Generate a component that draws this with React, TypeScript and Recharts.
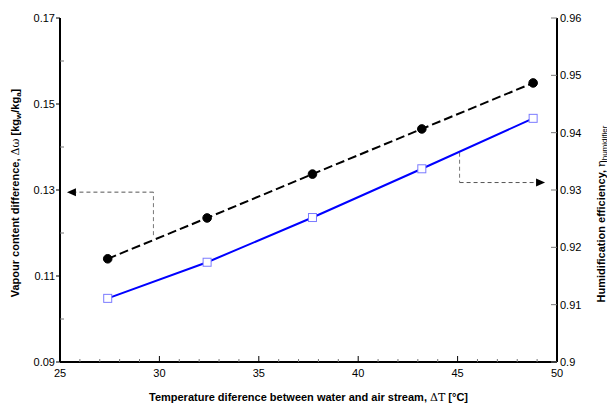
import { LineChart, Line, XAxis, YAxis, ReferenceLine } from 'recharts';

// readings from the figure
const deltaT = [27.4, 32.4, 37.7, 43.2, 48.8];
const vapourDiff = [0.114, 0.1235, 0.1337, 0.1442, 0.1549];
const efficiency = [0.9111, 0.9174, 0.9252, 0.9337, 0.9425];

const xTicks = [25, 26, 27, 28, 29, 30, 31, 32, 33, 34, 35, 36, 37, 38, 39, 40, 41, 42, 43, 44, 45, 46, 47, 48, 49, 50];
const leftTicks = [0.09, 0.1, 0.11, 0.12, 0.13, 0.14, 0.15, 0.16, 0.17];
const rightTicks = [0.9, 0.91, 0.92, 0.93, 0.94, 0.95, 0.96];

// dashed pointer arrows (data units)
const leftPointer = { x: 29.7, yLow: 0.1195, yHigh: 0.1295, tip: 25.35 };
const rightPointer = { x: 45.1, yHigh: 0.9365, yLow: 0.9313, tip: 49.4 };

const data = deltaT.map((t, i) => ({ t, vapour: vapourDiff[i], eff: efficiency[i] }));

const FONT = "Arial, 'Liberation Sans', sans-serif";

const BottomTick = ({ x, y, payload }: any) => {
  const v = payload.value;
  const major = v % 5 === 0;
  return (
    <g>
      <line x1={x} x2={x} y1={y} y2={y - (major ? 6 : 3)} stroke={major ? '#000' : '#777'} />
      {major && (
        <text x={x} y={y + 15} textAnchor="middle" fontSize={11} fontFamily={FONT} fill="#000">{v}</text>
      )}
    </g>
  );
};

const TopTick = ({ x, y }: any) => (
  <line x1={x} x2={x} y1={y} y2={y + 4} stroke="#777" />
);

const LeftTick = ({ x, y, payload }: any) => {
  const v = payload.value;
  const labelled = Math.round(v * 100) % 2 === 1;
  if (!labelled) return <line x1={x} x2={x + 4} y1={y} y2={y} stroke="#777" />;
  return (
    <g>
      <line x1={x} x2={x - 4} y1={y} y2={y} stroke="#000" />
      <text x={x - 5} y={y + 4} textAnchor="end" fontSize={11} fontFamily={FONT} fill="#000">{v.toFixed(2)}</text>
    </g>
  );
};

const RightTick = ({ x, y, payload }: any) => (
  <g>
    <line x1={x} x2={x - 6} y1={y} y2={y} stroke="#777" />
    <text x={x + 3} y={y + 4} textAnchor="start" fontSize={11} fontFamily={FONT} fill="#000">
      {String(Number(payload.value.toFixed(2)))}
    </text>
  </g>
);

const SquareDot = ({ cx, cy, index }: any) => (
  <rect key={`sq-${index}`} x={cx - 4} y={cy - 4} width={8} height={8} fill="#fff" stroke="#7b7bff" strokeWidth={1} />
);

const LeftTitle = ({ viewBox }: any) => {
  const cx = viewBox.x + 15;
  const cy = viewBox.y + viewBox.height / 2 + 3;
  return (
    <text x={cx} y={cy} transform={`rotate(-90 ${cx} ${cy})`} textAnchor="middle" dominantBaseline="central"
      fontSize={11} fontWeight="bold" fontFamily={FONT} fill="#000">
      Vapour content difference, <tspan fontFamily="'DejaVu Serif', serif" fontWeight="normal">Δω</tspan> [kg
      <tspan fontSize={8} dy={3}>w</tspan><tspan dy={-3}>/kg</tspan>
      <tspan fontSize={8} dy={3}>a</tspan><tspan dy={-3}>]</tspan>
    </text>
  );
};

const RightTitle = ({ viewBox }: any) => {
  const cx = viewBox.x + 44;
  const cy = viewBox.y + viewBox.height / 2 + 24;
  return (
    <text x={cx} y={cy} transform={`rotate(-90 ${cx} ${cy})`} textAnchor="middle" dominantBaseline="central"
      fontSize={11} fontWeight="bold" fontFamily={FONT} fill="#000">
      Humidification efficiency, <tspan fontFamily="'DejaVu Serif', serif" fontWeight="normal">η</tspan>
      <tspan fontSize={8} fontWeight="normal" dy={3}>humidifier</tspan>
    </text>
  );
};

const BottomTitle = ({ viewBox }: any) => {
  const cx = viewBox.x + viewBox.width / 2;
  const cy = viewBox.y + 35;
  return (
    <text x={cx} y={cy} textAnchor="middle" dominantBaseline="central"
      fontSize={11} fontWeight="bold" fontFamily={FONT} fill="#000">
      Temperature diference between water and air stream, <tspan fontFamily="'DejaVu Serif', serif" fontWeight="normal">ΔT</tspan> [°C]
    </text>
  );
};

const ArrowLine = (dir: 1 | -1) => (p: any) => {
  const { x1, y1, x2, y2 } = p;
  const tipX = dir === 1 ? Math.max(x1, x2) : Math.min(x1, x2);
  const baseX = tipX - dir * 9;
  return (
    <g>
      <line x1={x1} y1={y1} x2={baseX} y2={y2} stroke="#555" strokeDasharray="4 3" />
      <polygon points={`${tipX},${y1} ${baseX},${y1 - 4} ${baseX},${y1 + 4}`} fill="#000" />
    </g>
  );
};

const App = () => {
  return (
    <div style={{ position: 'absolute', left: 0, top: 0, background: '#fff' }}>
      <LineChart width={607} height={405} data={data} margin={{ top: 18, right: 0, bottom: 0, left: 0 }}>
        <XAxis xAxisId="b" dataKey="t" type="number" domain={[25, 50]} ticks={xTicks} interval={0}
          height={43} tickSize={0} tickMargin={0} tickLine={false} tick={<BottomTick />}
          axisLine={{ stroke: '#000', strokeWidth: 2 }} label={<BottomTitle />} />
        <XAxis xAxisId="top" orientation="top" type="number" domain={[25, 50]} ticks={xTicks} interval={0}
          height={0} tickSize={0} tickMargin={0} tickLine={false} tick={<TopTick />}
          axisLine={{ stroke: '#000', strokeWidth: 2 }} />
        <YAxis yAxisId="left" type="number" domain={[0.09, 0.17]} ticks={leftTicks} interval={0}
          width={60} tickSize={0} tickMargin={0} tickLine={false} tick={<LeftTick />}
          axisLine={{ stroke: '#000', strokeWidth: 2 }} label={<LeftTitle />} />
        <YAxis yAxisId="right" orientation="right" type="number" domain={[0.9, 0.96]} ticks={rightTicks} interval={0}
          width={50} tickSize={0} tickMargin={0} tickLine={false} tick={<RightTick />}
          axisLine={{ stroke: '#000', strokeWidth: 2 }} label={<RightTitle />} />

        <ReferenceLine xAxisId="b" yAxisId="left" stroke="#777" strokeDasharray="4 3"
          segment={[{ x: leftPointer.x, y: leftPointer.yLow }, { x: leftPointer.x, y: leftPointer.yHigh }]} />
        <ReferenceLine xAxisId="b" yAxisId="left" shape={ArrowLine(-1)}
          segment={[{ x: leftPointer.x, y: leftPointer.yHigh }, { x: leftPointer.tip, y: leftPointer.yHigh }]} />
        <ReferenceLine xAxisId="b" yAxisId="right" stroke="#777" strokeDasharray="4 3"
          segment={[{ x: rightPointer.x, y: rightPointer.yHigh }, { x: rightPointer.x, y: rightPointer.yLow }]} />
        <ReferenceLine xAxisId="b" yAxisId="right" shape={ArrowLine(1)}
          segment={[{ x: rightPointer.x, y: rightPointer.yLow }, { x: rightPointer.tip, y: rightPointer.yLow }]} />

        <Line xAxisId="b" yAxisId="left" dataKey="vapour" type="linear" stroke="#000" strokeWidth={2}
          strokeDasharray="9 4" dot={{ r: 4.3, fill: '#000', stroke: '#000', strokeWidth: 1, strokeDasharray: '' }}
          isAnimationActive={false} />
        <Line xAxisId="b" yAxisId="right" dataKey="eff" type="linear" stroke="#0000ff" strokeWidth={2}
          dot={<SquareDot />} isAnimationActive={false} />
      </LineChart>
    </div>
  );
};

export default App;
